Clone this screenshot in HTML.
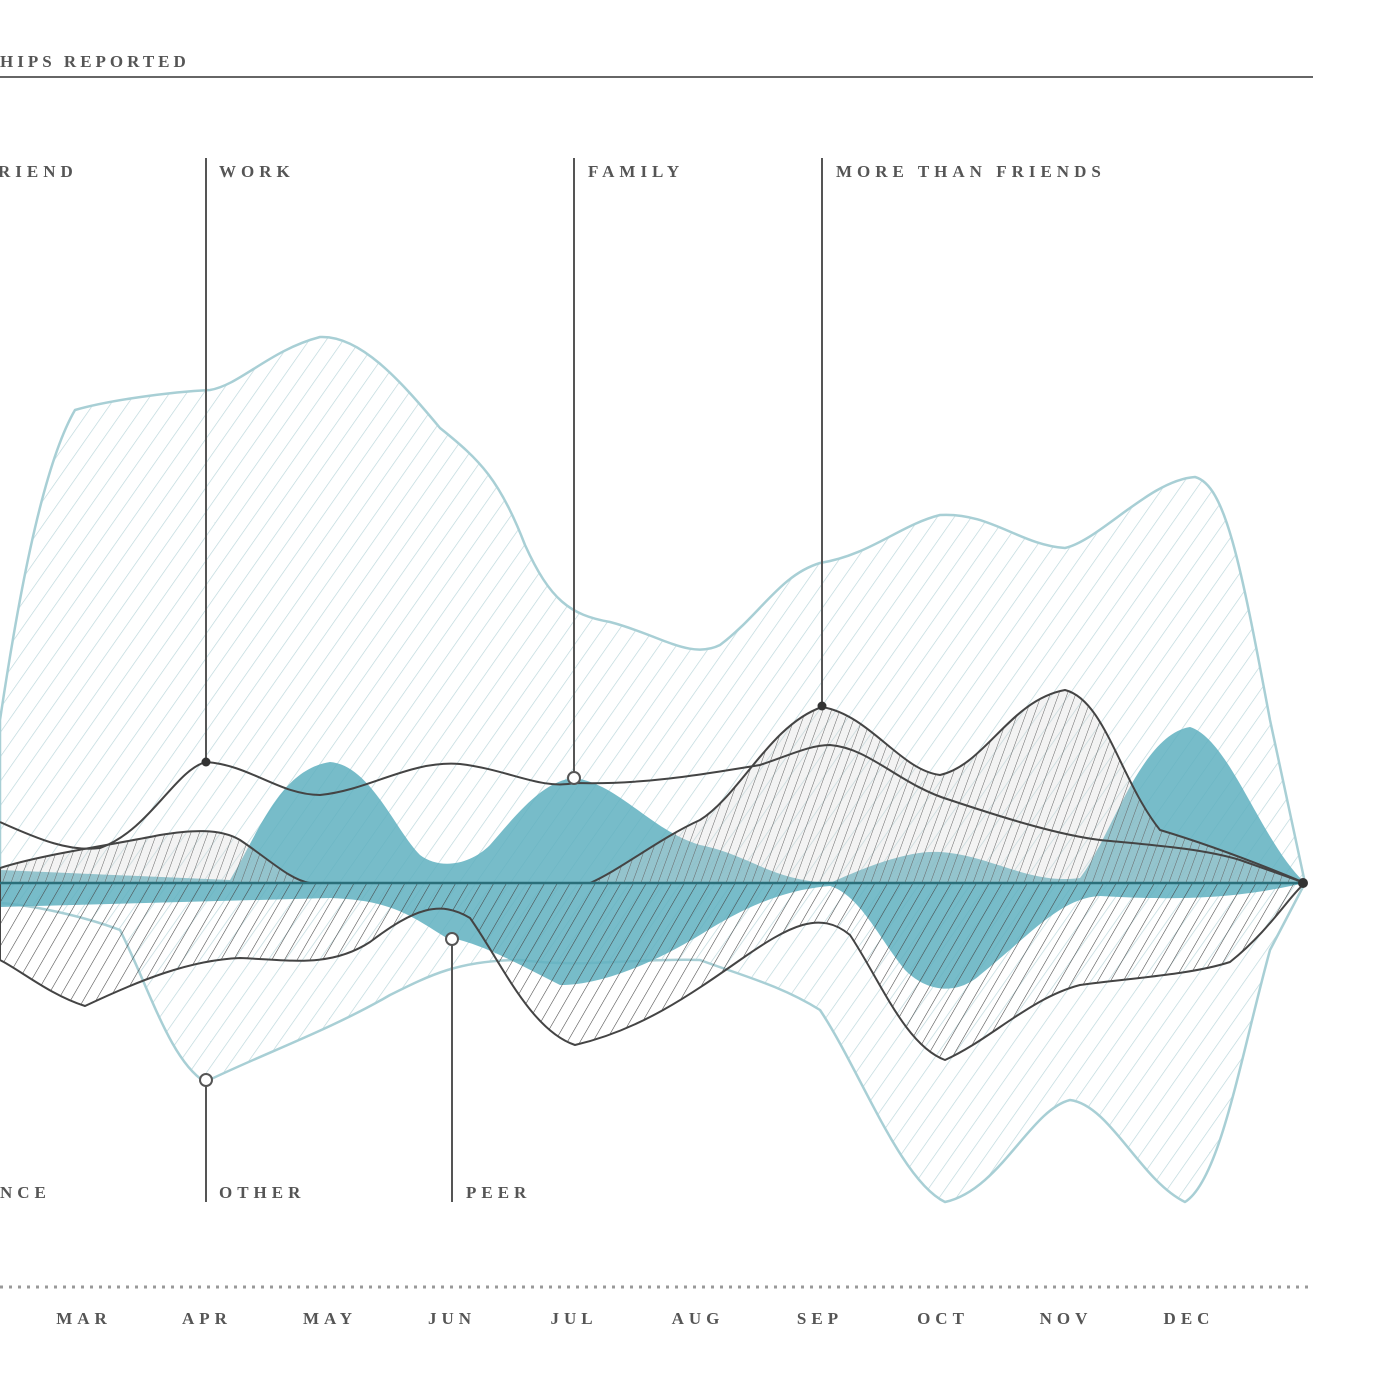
<!DOCTYPE html>
<html><head><meta charset="utf-8"><style>
html,body{margin:0;padding:0;background:#fff;}
svg{display:block}
text{font-family:"Liberation Serif",serif;font-weight:bold;fill:#555;letter-spacing:5px;font-size:17px}
</style></head><body>
<svg width="1400" height="1400" viewBox="0 0 1400 1400" xmlns="http://www.w3.org/2000/svg">
<defs>
<pattern id="lh" patternUnits="userSpaceOnUse" width="14" height="14" patternTransform="rotate(35)">
<rect width="14" height="14" fill="#fff"/><line x1="0" y1="0" x2="0" y2="14" stroke="#b9d6da" stroke-width="1.3"/></pattern>
<pattern id="dh" patternUnits="userSpaceOnUse" width="8" height="8" patternTransform="rotate(20)">
<rect width="8" height="8" fill="#d8d8d8" fill-opacity="0.3"/><line x1="0" y1="0" x2="0" y2="8" stroke="#666" stroke-width="1"/></pattern>
<pattern id="dh2" patternUnits="userSpaceOnUse" width="11" height="11" patternTransform="rotate(30)">
<line x1="0" y1="0" x2="0" y2="11" stroke="#444" stroke-width="1.1"/></pattern>
</defs>

<text x="0" y="67" style="font-size:17px;letter-spacing:4px">HIPS REPORTED</text>
<line x1="0" y1="77" x2="1313" y2="77" stroke="#666" stroke-width="2"/>

<path fill="url(#lh)" stroke="#a8cfd5" stroke-width="2.5" stroke-linejoin="round" d="M0,720 C15,620 40,470 75,410 C110,400 170,392 210,390 C240,385 270,350 320,337 C360,335 400,380 440,428 C480,460 500,480 525,545 C550,600 570,615 610,622 C660,635 690,660 720,645 C760,615 780,575 820,563 C870,555 900,525 940,515 C990,512 1020,545 1065,548 C1100,540 1150,480 1195,477 C1225,485 1240,560 1270,720 L1305,883 L1270,950 C1240,1060 1220,1180 1185,1202 C1140,1180 1110,1105 1070,1100 C1030,1110 1000,1190 945,1202 C900,1180 860,1070 820,1010 C780,985 740,975 700,960 C640,958 580,968 520,960 C460,960 430,975 390,995 C330,1030 260,1055 205,1082 C170,1060 150,990 120,930 C80,915 30,905 0,903 Z"/>

<path fill="#5fb0c0" fill-opacity="0.85" d="M0,870 L230,880 C260,830 280,770 330,762 C370,765 395,830 420,855 C440,870 470,865 490,845 C520,810 545,780 575,778 C620,785 650,830 700,845 C750,855 770,880 830,883 C870,865 910,850 940,852 C990,855 1030,885 1080,878 C1110,840 1140,735 1190,727 C1230,740 1260,840 1305,883 C1250,895 1200,902 1100,896 C1060,898 1030,935 980,975 C960,993 930,995 905,970 C880,940 860,895 830,886 C780,890 740,910 700,935 C650,965 600,985 560,985 C520,965 480,942 445,937 C410,915 390,900 330,898 L0,907 Z"/>

<path fill="url(#dh)" stroke="#444" stroke-width="2" stroke-linejoin="round" d="M0,868 C40,855 100,847 160,835 C190,830 220,828 240,840 C270,860 290,880 310,883 L590,883 C620,870 660,838 700,820 C740,795 770,725 822,707 C870,715 900,770 940,775 C985,765 1010,700 1065,690 C1105,700 1120,780 1160,830 C1200,842 1250,860 1305,883 L0,883 Z"/>

<path fill="url(#dh2)" stroke="#444" stroke-width="2" stroke-linejoin="round" d="M0,883 L1305,883 C1290,895 1270,930 1230,962 C1190,975 1130,978 1080,985 C1030,998 990,1040 945,1060 C905,1045 880,980 850,935 C820,910 790,925 740,960 C690,995 640,1030 575,1045 C530,1030 500,960 470,918 C440,900 415,908 370,942 C330,968 290,960 240,958 C190,960 140,980 85,1006 C50,995 20,970 0,960 Z"/>

<path fill="none" stroke="#444" stroke-width="2" d="M0,822 C40,840 70,852 100,848 C150,830 175,770 206,762 C250,765 280,795 320,795 C370,790 410,760 460,764 C510,770 540,790 575,783 C640,785 700,775 760,765 C790,755 810,745 830,745 C870,748 900,785 950,800 C1010,820 1060,835 1100,840 C1150,845 1200,848 1240,860 L1305,883"/>
<line x1="0" y1="883" x2="1305" y2="883" stroke="#2a6f7a" stroke-width="2.5"/>
<circle cx="1303" cy="883" r="5" fill="#333"/>

<g stroke="#555" stroke-width="2">
<line x1="206" y1="158" x2="206" y2="762"/>
<line x1="574" y1="158" x2="574" y2="772"/>
<line x1="822" y1="158" x2="822" y2="707"/>
<line x1="206" y1="1086" x2="206" y2="1202"/>
<line x1="452" y1="945" x2="452" y2="1202"/>
</g>
<circle cx="206" cy="762" r="4.5" fill="#333"/>
<circle cx="822" cy="706" r="4.5" fill="#333"/>
<circle cx="574" cy="778" r="6" fill="#fff" stroke="#555" stroke-width="2"/>
<circle cx="206" cy="1080" r="6" fill="#fff" stroke="#555" stroke-width="2"/>
<circle cx="452" cy="939" r="6" fill="#fff" stroke="#555" stroke-width="2"/>

<text x="-2" y="177">RIEND</text>
<text x="219" y="177">WORK</text>
<text x="588" y="177">FAMILY</text>
<text x="836" y="177">MORE THAN FRIENDS</text>
<text x="0" y="1198">NCE</text>
<text x="219" y="1198">OTHER</text>
<text x="466" y="1198">PEER</text>

<line x1="0" y1="1287" x2="1313" y2="1287" stroke="#999" stroke-width="3" stroke-dasharray="3,6"/>
<g text-anchor="middle">
<text x="84" y="1324">MAR</text>
<text x="207" y="1324">APR</text>
<text x="330" y="1324">MAY</text>
<text x="452" y="1324">JUN</text>
<text x="574" y="1324">JUL</text>
<text x="698" y="1324">AUG</text>
<text x="820" y="1324">SEP</text>
<text x="943" y="1324">OCT</text>
<text x="1066" y="1324">NOV</text>
<text x="1189" y="1324">DEC</text>
</g>
</svg>
</body></html>
